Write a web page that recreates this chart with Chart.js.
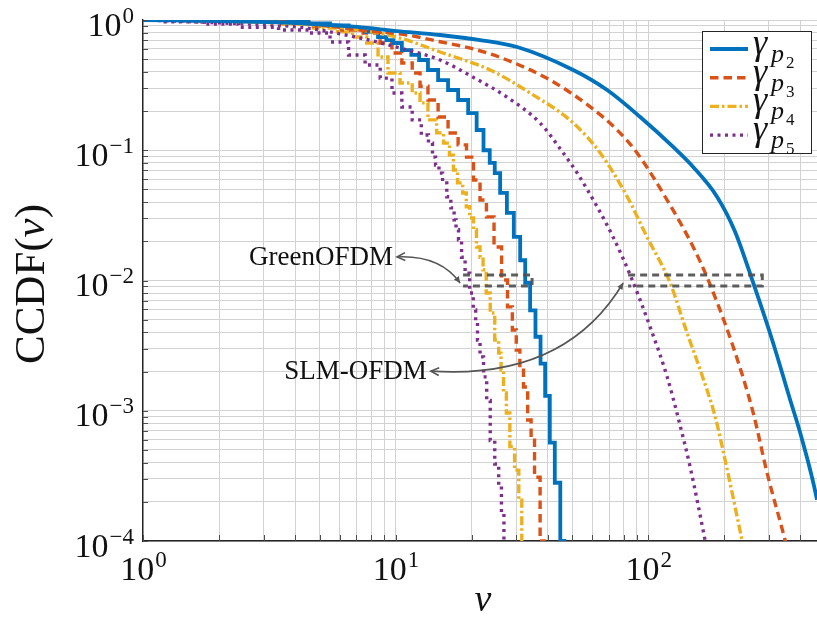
<!DOCTYPE html>
<html>
<head>
<meta charset="utf-8">
<script src="https://cdn.jsdelivr.net/npm/chart.js@4.4.0/dist/chart.umd.min.js"></script>
<style>
    html, body { margin: 0; padding: 0; background: #fff; }
    #wrap { width: 817px; height: 618px; }
</style>
</head>
<body>
<div id="wrap"><canvas id="ccdfChart" width="817" height="618"></canvas></div>
<script>
// SLM-OFDM curves (smooth)
const slmP2V = [1, 2.02, 4.07, 7.04, 10.1, 15, 21.6, 30.3, 50.5, 68.8, 93, 125.6, 150.7, 187.6, 221, 260.6, 312.6, 365, 400, 466, 500];
const slmP2C = [1, 0.982, 0.948, 0.884, 0.823, 0.767, 0.702, 0.62, 0.413, 0.29, 0.18, 0.106, 0.0744, 0.0438, 0.0236, 0.00957, 0.0033, 0.00121, 0.000675, 0.000207, 0.00009];
const slmP3V = [1, 2.02, 4.19, 7.24, 11.1, 15, 20.3, 27.6, 40.9, 59, 75.4, 90.4, 118.8, 150.7, 172.8, 217, 260.6, 296, 349, 380];
const slmP3C = [1, 0.985, 0.95, 0.838, 0.767, 0.681, 0.6, 0.493, 0.346, 0.215, 0.143, 0.0953, 0.0415, 0.0181, 0.0101, 0.0031, 0.00096, 0.00033, 0.0001, 0.00005];
const slmP4V = [1, 2.02, 4.19, 7.24, 10.4, 15, 23.7, 34.1, 50.5, 64.6, 82.6, 98.9, 122.2, 142.6, 160.7, 184.2, 201.6, 235.6, 260];
const slmP4C = [1, 0.98, 0.93, 0.838, 0.727, 0.568, 0.413, 0.275, 0.162, 0.0953, 0.044, 0.0216, 0.00957, 0.00395, 0.00206, 0.0009, 0.00042, 0.0001, 0.00004];
const slmP5V = [1, 2.02, 4.19, 7.24, 10.4, 15, 20.2, 27.6, 37.3, 46.1, 52.4, 62.8, 72.6, 84.9, 101.8, 118.9, 131.5, 146.6, 168.2, 180];
const slmP5C = [1, 0.95, 0.88, 0.727, 0.61, 0.493, 0.365, 0.256, 0.162, 0.0953, 0.0667, 0.0368, 0.0216, 0.011, 0.0044, 0.00182, 0.00088, 0.00037, 0.0001, 0.00005];

// GreenOFDM curves (empirical, stair steps)
const greenP2V = [1, 2, 3, 4.07, 5.02, 6.03, 7.04, 8.15, 8.91, 9.5, 10.1, 11.1, 12, 12.8, 14.1, 15.4, 16.9, 18.5, 20.3, 21.6, 23, 24.2, 25.2, 26.7, 28.5, 30.3, 32, 33.2, 35, 36.6, 38.4, 39.8, 41.8, 43.6, 46.2, 47];
const greenP2C = [1, 0.995, 0.98, 0.965, 0.94, 0.91, 0.868, 0.81, 0.74, 0.7, 0.666, 0.588, 0.54, 0.493, 0.413, 0.346, 0.29, 0.243, 0.193, 0.143, 0.1, 0.08, 0.0667, 0.047, 0.033, 0.0216, 0.0143, 0.0096, 0.0059, 0.0037, 0.0023, 0.0013, 0.00057, 0.00028, 0.0001, 0.00005];
const greenP3V = [1, 2, 3, 4.07, 5.5, 6.79, 8.15, 9.27, 10.1, 11.1, 12.2, 12.8, 14.1, 15.4, 16.9, 18.5, 19.7, 21, 22.2, 23.6, 25.5, 27.1, 28.4, 29.6, 30.5, 31.6, 32.6, 34.1, 34.7, 36.3, 38.4, 39];
const greenP3C = [1, 0.995, 0.98, 0.95, 0.9, 0.838, 0.795, 0.666, 0.558, 0.467, 0.392, 0.31, 0.243, 0.18, 0.1355, 0.11, 0.0886, 0.0591, 0.0415, 0.0308, 0.0181, 0.0101, 0.00627, 0.00417, 0.00292, 0.00216, 0.00152, 0.00085, 0.000628, 0.000309, 0.0001, 0.00005];
const greenP4V = [1, 2, 3, 4.07, 5.5, 6.3, 7.24, 8.15, 8.91, 9.77, 11.1, 12.2, 12.8, 14.1, 15, 16, 16.7, 17.2, 18, 18.9, 19.2, 20.1, 20.6, 21.2, 22, 22.4, 23.3, 24.1, 25.3, 25.9, 26.4, 27.1, 27.8, 28.9, 30.3, 31.2, 32, 32.5];
const greenP4C = [1, 0.995, 0.975, 0.93, 0.868, 0.81, 0.74, 0.666, 0.52, 0.392, 0.328, 0.275, 0.231, 0.171, 0.136, 0.1135, 0.0918, 0.0706, 0.0562, 0.047, 0.0368, 0.0302, 0.0245, 0.0181, 0.0151, 0.0121, 0.00802, 0.00563, 0.00349, 0.00277, 0.00205, 0.00137, 0.00096, 0.00053, 0.00035, 0.000206, 0.0001, 0.00005];
const greenP5V = [1, 1.5, 1.96, 2.91, 4.07, 5.02, 6.03, 7.04, 8.15, 9.27, 10.1, 11.1, 12.2, 13.1, 13.9, 14.1, 14.7, 15, 15.7, 16.2, 16.9, 17.2, 17.5, 18, 18.5, 19.2, 20.1, 20.5, 21, 21.2, 22, 22.6, 23.3, 24.1, 25.3, 25.9, 26.6, 27.1, 27.6];
const greenP5C = [1, 0.97, 0.93, 0.88, 0.838, 0.795, 0.678, 0.539, 0.451, 0.358, 0.275, 0.215, 0.171, 0.131, 0.1135, 0.0886, 0.077, 0.0667, 0.0562, 0.0439, 0.0361, 0.0292, 0.0245, 0.0205, 0.0151, 0.0114, 0.00802, 0.00594, 0.00473, 0.00349, 0.00259, 0.00182, 0.0012, 0.00059, 0.00039, 0.000263, 0.000166, 0.0001, 0.00005];

// dashed boxes around the 1e-2 crossing
const greenBoxV = [18.5, 34.7];
const slmBoxV = [83.3, 283];
const boxC = [0.00908, 0.011];

// annotation labels and arrows
const noteLabels = ['GreenOFDM', 'SLM-OFDM'];
const noteTextV = [9.77, 13.3];
const noteTextC = [0.0149, 0.00198];
const noteFromV = [18.0, 79.6];
const noteFromC = [0.00957, 0.00957];
const noteBendV = [15.0, 46.9];
const noteBendC = [0.0157, 0.00172];

const legendSubs = ['2', '3', '4', '5'];
const xTickValues = [1, 2, 3, 4, 5, 6, 7, 8, 9, 10, 20, 30, 40, 50, 60, 70, 80, 90, 100, 200, 300, 400];
const xLabelExps = [0, 1, 2];
const yLabelExps = [0, -1, -2, -3, -4];

const serif = "'Liberation Serif', 'DejaVu Serif', serif";
const blue = '#0072BD', orange = '#D95319', yellow = '#EDB120', purple = '#7E2F8E';
const styles = [
    { color: blue, dash: [], width: 3.8 },
    { color: orange, dash: [8.5, 5], width: 3.4 },
    { color: yellow, dash: [9, 3, 2.5, 3], width: 3.4 },
    { color: purple, dash: [3, 4.5], width: 3.4 }
];

function curve(v, c, st, stepped) {
    return {
        data: v.map((vv, i) => ({ x: vv, y: c[i] })),
        borderColor: st.color,
        borderDash: st.dash,
        borderWidth: st.width,
        borderCapStyle: 'butt',
        stepped: stepped ? 'middle' : false,
        cubicInterpolationMode: stepped ? 'default' : 'monotone',
        pointRadius: 0,
        fill: false,
        order: 1
    };
}

function box(v) {
    const pts = [[v[0], boxC[1]], [v[1], boxC[1]], [v[1], boxC[0]], [v[0], boxC[0]]];
    return {
        data: pts.map(p => ({ x: p[0], y: p[1] })),
        borderColor: 'rgba(80,80,80,0.92)',
        borderDash: [7, 5],
        borderWidth: 3,
        pointRadius: 0,
        fill: false,
        order: 0
    };
}

const datasets = [
    curve(slmP2V, slmP2C, styles[0], false),
    curve(slmP3V, slmP3C, styles[1], false),
    curve(slmP4V, slmP4C, styles[2], false),
    curve(slmP5V, slmP5C, styles[3], false),
    curve(greenP2V, greenP2C, styles[0], true),
    curve(greenP3V, greenP3C, styles[1], true),
    curve(greenP4V, greenP4C, styles[2], true),
    curve(greenP5V, greenP5C, styles[3], true),
    box(greenBoxV),
    box(slmBoxV)
];

function drawPow(ctx, exp, xPos, baseY, align) {
    const base = '10';
    const sup = exp < 0 ? '\u2212' + (-exp) : String(exp);
    ctx.font = '34px ' + serif;
    const wb = ctx.measureText(base).width;
    ctx.font = '23px ' + serif;
    const ws = ctx.measureText(sup).width;
    const x0 = align === 'right' ? xPos - wb - ws : xPos - (wb + ws) / 2;
    ctx.textAlign = 'left';
    ctx.textBaseline = 'alphabetic';
    ctx.font = '34px ' + serif;
    ctx.fillText(base, x0, baseY);
    ctx.font = '23px ' + serif;
    ctx.fillText(sup, x0 + wb + 1, baseY - 13);
}

function arrowHead(ctx, tx, ty, fx, fy, len, open) {
    const ang = Math.atan2(ty - fy, tx - fx);
    const a1 = ang + Math.PI - 0.45, a2 = ang + Math.PI + 0.45;
    ctx.beginPath();
    ctx.moveTo(tx + len * Math.cos(a1), ty + len * Math.sin(a1));
    ctx.lineTo(tx, ty);
    ctx.lineTo(tx + len * Math.cos(a2), ty + len * Math.sin(a2));
    if (open) {
        ctx.stroke();
    } else {
        ctx.closePath();
        ctx.fill();
    }
}

const decor = {
    id: 'decor',
    afterDatasetsDraw(chart) {
        const { ctx, scales: { x, y } } = chart;
        ctx.save();
        ctx.strokeStyle = '#555';
        ctx.fillStyle = '#555';
        ctx.lineWidth = 1.6;
        ctx.setLineDash([]);
        noteLabels.forEach((label, i) => {
            const tx = x.getPixelForValue(noteTextV[i]);
            const ty = y.getPixelForValue(noteTextC[i]);
            const sx = x.getPixelForValue(noteFromV[i]);
            const sy = y.getPixelForValue(noteFromC[i]);
            const cx = x.getPixelForValue(noteBendV[i]);
            const cy = y.getPixelForValue(noteBendC[i]);
            const ex = tx + 4, ey = ty - 1;
            ctx.beginPath();
            ctx.moveTo(sx, sy);
            ctx.quadraticCurveTo(cx, cy, ex, ey);
            ctx.stroke();
            arrowHead(ctx, ex, ey, cx, cy, 9, true);
            arrowHead(ctx, sx, sy, cx, cy, 7, false);
            ctx.fillStyle = '#111';
            ctx.font = '27px ' + serif;
            ctx.textAlign = 'right';
            ctx.textBaseline = 'middle';
            ctx.fillText(label, tx, ty);
            ctx.fillStyle = '#555';
        });
        ctx.restore();
    },
    afterDraw(chart) {
        const { ctx, chartArea: a, scales: { x, y } } = chart;
        ctx.save();
        // inward tick marks
        ctx.strokeStyle = '#4d4d4d';
        ctx.lineWidth = 1;
        y.ticks.forEach(t => {
            const py = Math.round(y.getPixelForValue(t.value)) + 0.5;
            ctx.beginPath();
            ctx.moveTo(a.left, py);
            ctx.lineTo(a.left + 5, py);
            ctx.stroke();
        });
        x.ticks.forEach(t => {
            const px = Math.round(x.getPixelForValue(t.value)) + 0.5;
            ctx.beginPath();
            ctx.moveTo(px, a.bottom);
            ctx.lineTo(px, a.bottom - 6);
            ctx.stroke();
        });
        // tick labels
        ctx.fillStyle = '#111';
        yLabelExps.forEach(e => {
            drawPow(ctx, e, 133, y.getPixelForValue(Math.pow(10, e)) + 15.5, 'right');
        });
        xLabelExps.forEach(e => {
            drawPow(ctx, e, x.getPixelForValue(Math.pow(10, e)), 580, 'center');
        });
        // axis titles
        ctx.textBaseline = 'alphabetic';
        ctx.textAlign = 'center';
        ctx.font = 'italic 38px ' + serif;
        ctx.fillText('v', (a.left + a.right) / 2 + 3, 611);
        ctx.save();
        ctx.translate(44, 284);
        ctx.rotate(-Math.PI / 2);
        const parts = [['CCDF(', ''], ['v', 'italic '], [')', '']];
        let total = 0;
        parts.forEach(p => { ctx.font = p[1] + '43px ' + serif; total += ctx.measureText(p[0]).width; });
        let cx = -total / 2;
        ctx.textAlign = 'left';
        parts.forEach(p => {
            ctx.font = p[1] + '43px ' + serif;
            ctx.fillText(p[0], cx, 0);
            cx += ctx.measureText(p[0]).width;
        });
        ctx.restore();
        // legend
        const lx = 702, ly = 31, lw = 109, lh = 122;
        ctx.fillStyle = '#fff';
        ctx.fillRect(lx, ly, lw, lh);
        ctx.strokeStyle = '#262626';
        ctx.lineWidth = 1;
        ctx.strokeRect(lx + 0.5, ly + 0.5, lw, lh);
        legendSubs.forEach((s, i) => {
            const ds = chart.data.datasets[i];
            const ry = 49 + i * 28.7;
            ctx.strokeStyle = ds.borderColor;
            ctx.lineWidth = ds.borderWidth;
            ctx.setLineDash(ds.borderDash);
            ctx.lineCap = 'butt';
            ctx.beginPath();
            ctx.moveTo(710, ry);
            ctx.lineTo(748, ry);
            ctx.stroke();
            ctx.setLineDash([]);
            ctx.fillStyle = '#111';
            ctx.textAlign = 'left';
            ctx.font = 'italic 36px ' + serif;
            ctx.fillText('\u03b3', 753, ry + 5);
            ctx.font = 'italic 26px ' + serif;
            ctx.fillText('p', 771, ry + 13);
            ctx.font = '17px ' + serif;
            ctx.fillText(s, 786, ry + 19);
        });
        ctx.restore();
    }
};

const ctx = document.getElementById('ccdfChart').getContext('2d');
const ccdfChart = new Chart(ctx, {
    type: 'line',
    data: { datasets: datasets },
    options: {
        responsive: false,
        animation: false,
        devicePixelRatio: 1,
        layout: { padding: { top: 20, right: 0, bottom: 0, left: 0 } },
        plugins: {
            legend: { display: false },
            tooltip: { enabled: false }
        },
        scales: {
            x: {
                type: 'logarithmic',
                min: 1,
                max: 466,
                afterBuildTicks: s => { s.ticks = xTickValues.map(v => ({ value: v })); },
                afterFit: s => { s.height = 77; },
                ticks: { display: false },
                grid: { color: '#d2d2d2', lineWidth: 1, drawTicks: false },
                border: { display: true, color: '#262626', width: 1.4 }
            },
            y: {
                type: 'logarithmic',
                min: 1e-4,
                max: 1,
                afterBuildTicks: s => {
                    const vals = [];
                    for (let e = -4; e < 0; e++) {
                        for (let m = 1; m < 10; m++) vals.push(m * Math.pow(10, e));
                    }
                    vals.push(1);
                    s.ticks = vals.map(v => ({ value: v }));
                },
                afterFit: s => { s.width = 143; },
                ticks: { display: false },
                grid: { color: '#d2d2d2', lineWidth: 1, drawTicks: false },
                border: { display: true, color: '#262626', width: 1.4 }
            }
        }
    },
    plugins: [decor]
});
</script>
</body>
</html>
